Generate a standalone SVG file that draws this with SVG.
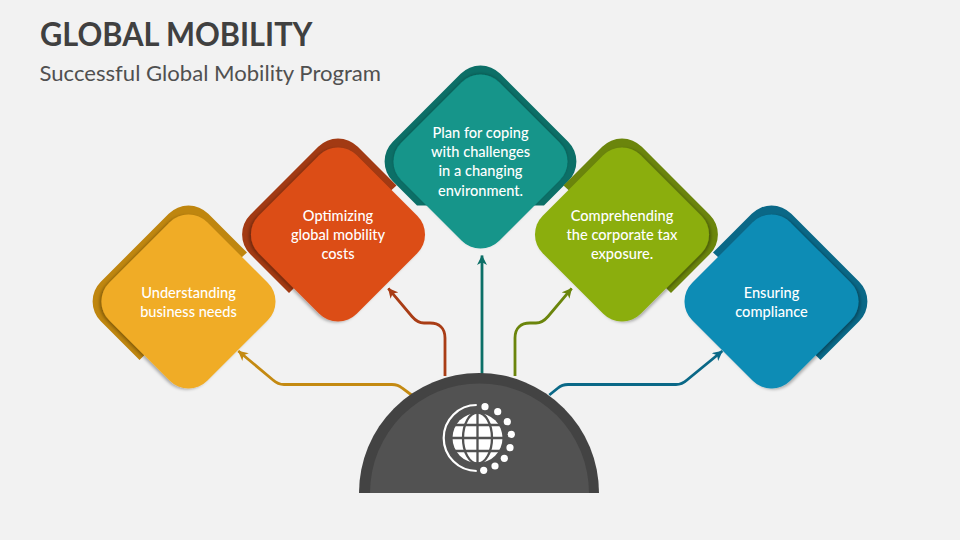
<svg xmlns="http://www.w3.org/2000/svg" xmlns:xlink="http://www.w3.org/1999/xlink" width="960" height="540" viewBox="0 0 960 540">
  <style>
    .title{font:700 32.5px "Lato","Liberation Sans",sans-serif;fill:#404040}
    .sub{font:400 20.2px "Lato","Liberation Sans",sans-serif;fill:#505050}
    .lbl{font:500 14.6px "Lato","Liberation Sans",sans-serif;fill:#fff;text-anchor:middle}
    .con{fill:none;stroke-width:2.8}
    .grid{fill:none;stroke:#525252;stroke-width:2.3}
    .dot{fill:#fff}
  </style>
  <defs>
    <rect id="face" x="-69.3" y="-69.3" width="138.6" height="138.6" rx="26.5" transform="rotate(45)"/>
    <path id="bandSide" d="M58.5,-49 L19.8,-87.7 A28,28 0 0 0 -19.8,-87.7 L-87.7,-19.8 A28,28 0 0 0 -87.7,19.8 L-49,58.5 L-44,53.5 L0,0 L53,-44 Z"/>
    <path id="bandTop" d="M-63.5,44 L-87.7,19.8 A28,28 0 0 1 -87.7,-19.8 L-19.8,-87.7 A28,28 0 0 1 19.8,-87.7 L87.7,-19.8 A28,28 0 0 1 87.7,19.8 L63.5,44 Z"/>
    <filter id="shL" x="-20%" y="-20%" width="140%" height="140%"><feDropShadow dx="-2" dy="1" stdDeviation="1.6" flood-color="#000" flood-opacity=".3"/></filter>
    <filter id="shR" x="-20%" y="-20%" width="140%" height="140%"><feDropShadow dx="2" dy="1" stdDeviation="1.6" flood-color="#000" flood-opacity=".3"/></filter>
    <filter id="shT" x="-20%" y="-20%" width="140%" height="140%"><feDropShadow dx="0" dy="-1" stdDeviation="1.6" flood-color="#000" flood-opacity=".22"/></filter>
    <marker id="a1" markerUnits="userSpaceOnUse" markerWidth="11" markerHeight="10" refX="9.5" refY="5" orient="auto"><path d="M10,5 L0,0 L2.8,5 L0,10 Z" fill="#C48A12"/></marker>
    <marker id="a2" markerUnits="userSpaceOnUse" markerWidth="11" markerHeight="10" refX="9.5" refY="5" orient="auto"><path d="M10,5 L0,0 L2.8,5 L0,10 Z" fill="#A93D16"/></marker>
    <marker id="a3" markerUnits="userSpaceOnUse" markerWidth="11" markerHeight="10" refX="9.5" refY="5" orient="auto"><path d="M10,5 L0,0 L2.8,5 L0,10 Z" fill="#0C6F67"/></marker>
    <marker id="a4" markerUnits="userSpaceOnUse" markerWidth="11" markerHeight="10" refX="9.5" refY="5" orient="auto"><path d="M10,5 L0,0 L2.8,5 L0,10 Z" fill="#6B850C"/></marker>
    <marker id="a5" markerUnits="userSpaceOnUse" markerWidth="11" markerHeight="10" refX="9.5" refY="5" orient="auto"><path d="M10,5 L0,0 L2.8,5 L0,10 Z" fill="#0A6887"/></marker>
  </defs>
  <rect width="960" height="540" fill="#F2F2F2"/>
  <text class="title" x="40" y="45.7" textLength="272.5" lengthAdjust="spacingAndGlyphs">GLOBAL MOBILITY</text>
  <text class="sub" x="39.5" y="80.7" textLength="341.5" lengthAdjust="spacingAndGlyphs">Successful Global Mobility Program</text>

  <g id="connectors">
    <path class="con" stroke="#C48A12" marker-end="url(#a1)" d="M411.5,395 L402,388 Q398,384.5 392,384.5 L284,384.5 Q278,384.5 273,380 L238.3,351"/>
    <path class="con" stroke="#A93D16" marker-end="url(#a2)" d="M445,376 V338 C445,328 439,323 430,323 H424 C418,323 415,320 412,316.5 L388.3,288.3"/>
    <path class="con" stroke="#0C6F67" marker-end="url(#a3)" d="M482,375 V255.5"/>
    <path class="con" stroke="#6B850C" marker-end="url(#a4)" d="M515,376 V338 C515,328 521,323 530,323 H536 C542,323 545,320 548,316.5 L571.7,288.3"/>
    <path class="con" stroke="#0A6887" marker-end="url(#a5)" d="M549.3,395 L558,388 Q562,384.5 568,384.5 L676,384.5 Q682,384.5 687,380 L722.3,351"/>
  </g>

  <g id="node-understanding" transform="translate(188.5,301.5)">
    <use xlink:href="#bandSide" href="#bandSide" fill="#BF860F"/>
    <use xlink:href="#face" href="#face" fill="#F0AC28" filter="url(#shL)"/>
    <text class="lbl" y="-3.5">Understanding</text>
    <text class="lbl" y="15.5">business needs</text>
  </g>
  <g id="node-optimizing" transform="translate(338,234.5)">
    <use xlink:href="#bandSide" href="#bandSide" fill="#A23A13"/>
    <use xlink:href="#face" href="#face" fill="#DC4E19" filter="url(#shL)"/>
    <text class="lbl" y="-13.8">Optimizing</text>
    <text class="lbl" y="5.3">global mobility</text>
    <text class="lbl" y="24.3">costs</text>
  </g>
  <g id="node-plan" transform="translate(480.5,161.5)">
    <use xlink:href="#bandTop" href="#bandTop" fill="#0C6F67"/>
    <use xlink:href="#face" href="#face" fill="#12958A" filter="url(#shT)"/>
    <text class="lbl" y="-23.5">Plan for coping</text>
    <text class="lbl" y="-4.5">with challenges</text>
    <text class="lbl" y="14.5">in a changing</text>
    <text class="lbl" y="34">environment.</text>
  </g>
  <g id="node-comprehending" transform="translate(622,234.5)">
    <use xlink:href="#bandSide" href="#bandSide" fill="#6B850C" transform="scale(-1,1)"/>
    <use xlink:href="#face" href="#face" fill="#8BAE10" filter="url(#shR)"/>
    <text class="lbl" y="-13.8">Comprehending</text>
    <text class="lbl" y="5.3">the corporate tax</text>
    <text class="lbl" y="24.3">exposure.</text>
  </g>
  <g id="node-ensuring" transform="translate(771.5,301.5)">
    <use xlink:href="#bandSide" href="#bandSide" fill="#0A6887" transform="scale(-1,1)"/>
    <use xlink:href="#face" href="#face" fill="#0F8CB5" filter="url(#shR)"/>
    <text class="lbl" y="-3.5">Ensuring</text>
    <text class="lbl" y="15.5">compliance</text>
  </g>

  <g id="node-hub">
    <path d="M359,493 A120,120 0 0 1 599,493 Z" fill="#434343"/>
    <path d="M370,493 A109.5,109.5 0 0 1 589,493 Z" fill="#525252"/>
    <circle cx="477.5" cy="438" r="25" fill="#fff"/>
    <ellipse class="grid" cx="477.5" cy="438" rx="14.5" ry="25.5"/>
    <path class="grid" d="M477.5,412 V464 M450,438 H505 M450,425 H505 M450,451 H505"/>
    <path d="M476.7,405 A33,33 0 0 0 476.7,471" fill="none" stroke="#fff" stroke-width="2.2"/>
    <g class="dot">
      <circle cx="485" cy="406.7" r="3.6"/><circle cx="497.7" cy="411.7" r="3.6"/><circle cx="507.3" cy="421.7" r="3.6"/><circle cx="511.3" cy="434.3" r="3.6"/><circle cx="510" cy="447.7" r="3.6"/><circle cx="504.3" cy="458.3" r="3.6"/><circle cx="495" cy="466" r="3.6"/><circle cx="483.7" cy="470.3" r="3.6"/>
    </g>
  </g>
</svg>
